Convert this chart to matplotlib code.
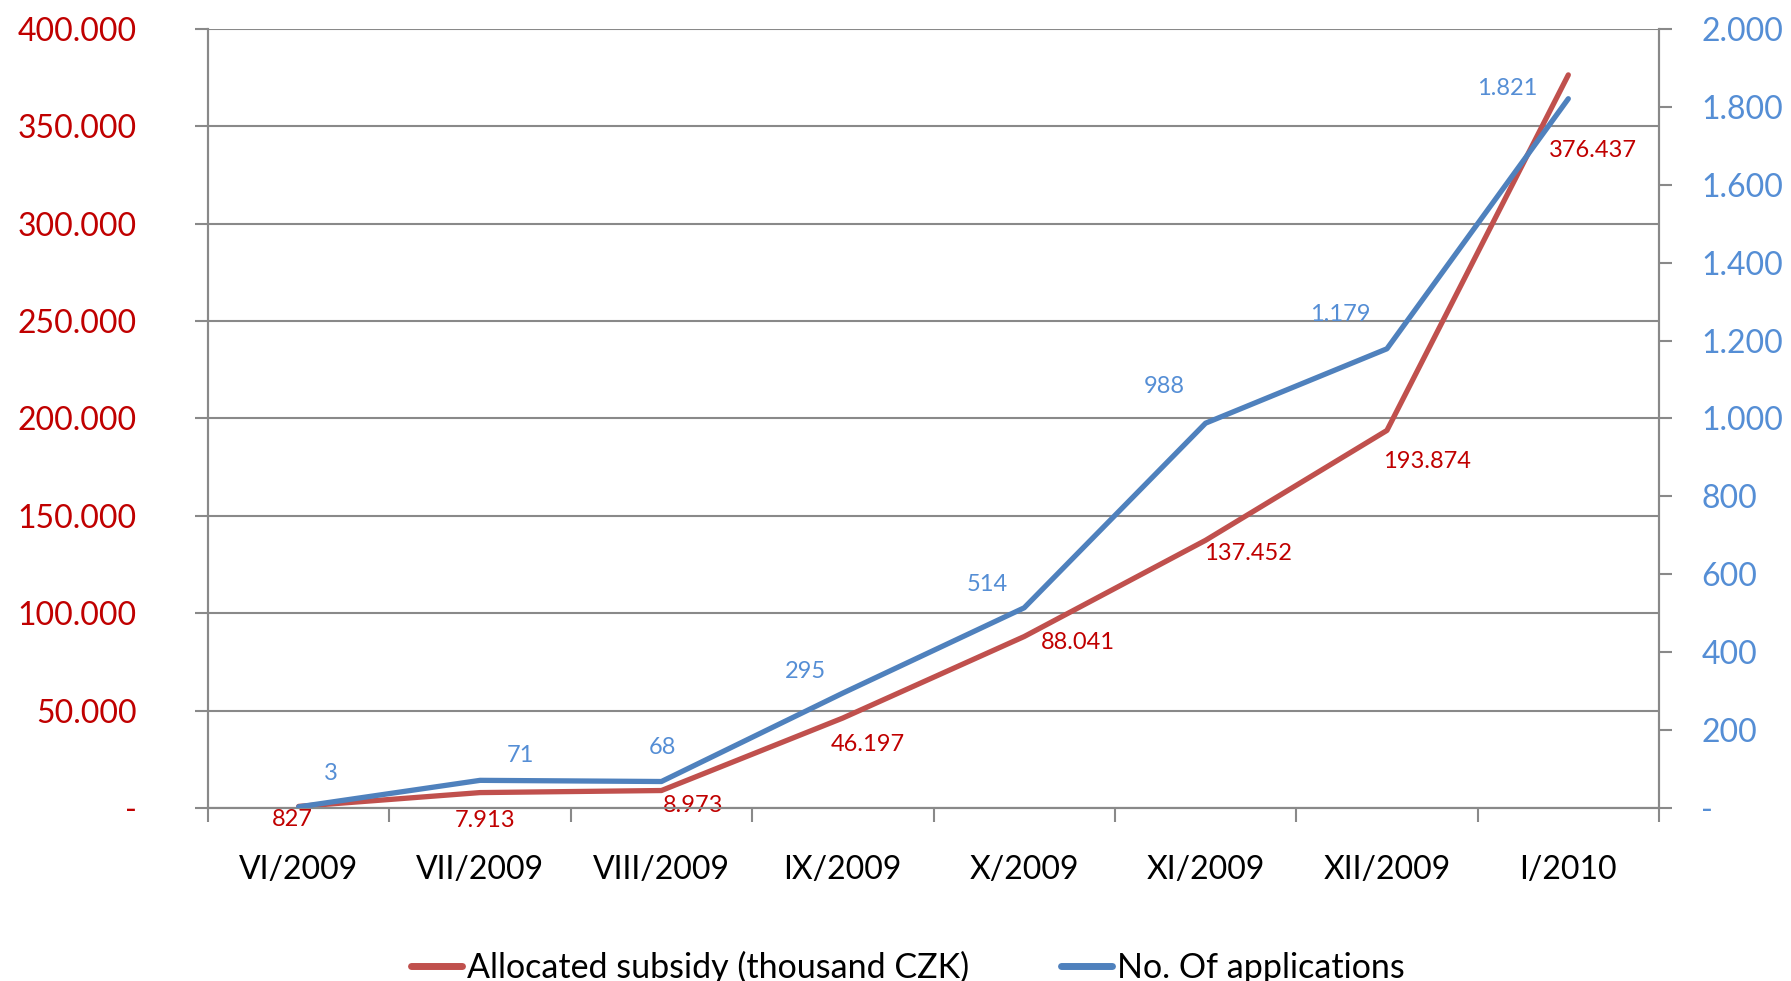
import matplotlib
matplotlib.use("Agg")
import matplotlib.pyplot as plt
import matplotlib.ticker as mticker

# Data
MONTHS = ["VI/2009", "VII/2009", "VIII/2009", "IX/2009", "X/2009",
          "XI/2009", "XII/2009", "I/2010"]
SUBSIDY = [827, 7913, 8973, 46197, 88041, 137452, 193874, 376437]
APPLICATIONS = [3, 71, 68, 295, 514, 988, 1179, 1821]

# label offsets in pixels (dx right, dy down) relative to the point
SUBSIDY_LABEL_OFFSETS = [(-6, 13), (5, 28), (32, 15), (25, 26), (54, 6),
                         (42, 13), (40, 31), (25, 76)]
APPS_LABEL_OFFSETS = [(32, -33), (40, -25), (1, -34), (-37, -22), (-37, -23),
                      (-41, -37), (-47, -34), (-61, -10)]

RED_LINE = "#C0504D"
BLUE_LINE = "#4F81BD"
RED_TEXT = "#C00000"
BLUE_TEXT = "#558ED5"
GRID = "#898989"

plt.rcParams["font.family"] = ["Lato", "DejaVu Sans"]


def fmt_num(v):
    if v == 0:
        return "-"
    return f"{int(v):,}".replace(",", ".")


fig = plt.figure(figsize=(17.91, 9.81), dpi=100)
ax = fig.add_axes([208 / 1791, 1 - 808 / 981, (1659 - 208) / 1791, (808 - 29) / 981])
ax2 = ax.twinx()

x = list(range(len(MONTHS)))
ax.plot(x, SUBSIDY, color=RED_LINE, linewidth=3.8, solid_capstyle="round", zorder=3)
ax2.plot(x, APPLICATIONS, color=BLUE_LINE, linewidth=3.8, solid_capstyle="round", zorder=3)

ax.set_xlim(-0.5, len(MONTHS) - 0.5)
ax.set_ylim(0, 400000)
ax2.set_ylim(0, 2000)

# left axis
ax.yaxis.set_major_locator(mticker.MultipleLocator(50000))
ax.yaxis.set_major_formatter(mticker.FuncFormatter(lambda v, p: fmt_num(v)))
ax.tick_params(axis="y", colors=GRID, labelcolor=RED_TEXT, labelsize=23,
               length=9.4, width=1.5, pad=42)
ax.grid(axis="y", color=GRID, linewidth=1.5)
ax.set_axisbelow(True)

# right axis
ax2.yaxis.set_major_locator(mticker.MultipleLocator(200))
ax2.yaxis.set_major_formatter(mticker.FuncFormatter(lambda v, p: fmt_num(v)))
ax2.tick_params(axis="y", colors=GRID, labelcolor=BLUE_TEXT, labelsize=23,
                length=9.4, width=1.5, pad=21)

# x axis
ax.set_xticks(x)
ax.set_xticklabels(MONTHS)
ax.set_xticks([i - 0.5 for i in range(len(MONTHS) + 1)], minor=True)
ax.tick_params(axis="x", which="major", length=0, labelsize=23, pad=34, labelcolor="black")
ax.tick_params(axis="x", which="minor", length=10, width=1.5, colors=GRID)

for a in (ax, ax2):
    for side in ("left", "right", "bottom"):
        a.spines[side].set_color(GRID)
        a.spines[side].set_linewidth(1.5)
    a.spines["top"].set_visible(False)

# data labels
for i, (v, (dx, dy)) in enumerate(zip(SUBSIDY, SUBSIDY_LABEL_OFFSETS)):
    ax.annotate(fmt_num(v), (i, v), xytext=(dx, -dy), textcoords="offset pixels",
                ha="center", va="center", color=RED_TEXT, fontsize=17, zorder=5)
for i, (v, (dx, dy)) in enumerate(zip(APPLICATIONS, APPS_LABEL_OFFSETS)):
    ax2.annotate(fmt_num(v), (i, v), xytext=(dx, -dy), textcoords="offset pixels",
                 ha="center", va="center", color=BLUE_TEXT, fontsize=17, zorder=5)

# legend
h1 = plt.Line2D([], [], color=RED_LINE, linewidth=5, solid_capstyle="round")
h2 = plt.Line2D([], [], color=BLUE_LINE, linewidth=5, solid_capstyle="round")
fig.legend([h1, h2], ["Allocated subsidy (thousand CZK)", "No. Of applications"],
           loc="center", bbox_to_anchor=(0.507, 0.014), ncol=2, frameon=False,
           fontsize=24.5, handlelength=1.5, handletextpad=0.15, columnspacing=2.7)

fig.savefig("out.png", dpi=100)
